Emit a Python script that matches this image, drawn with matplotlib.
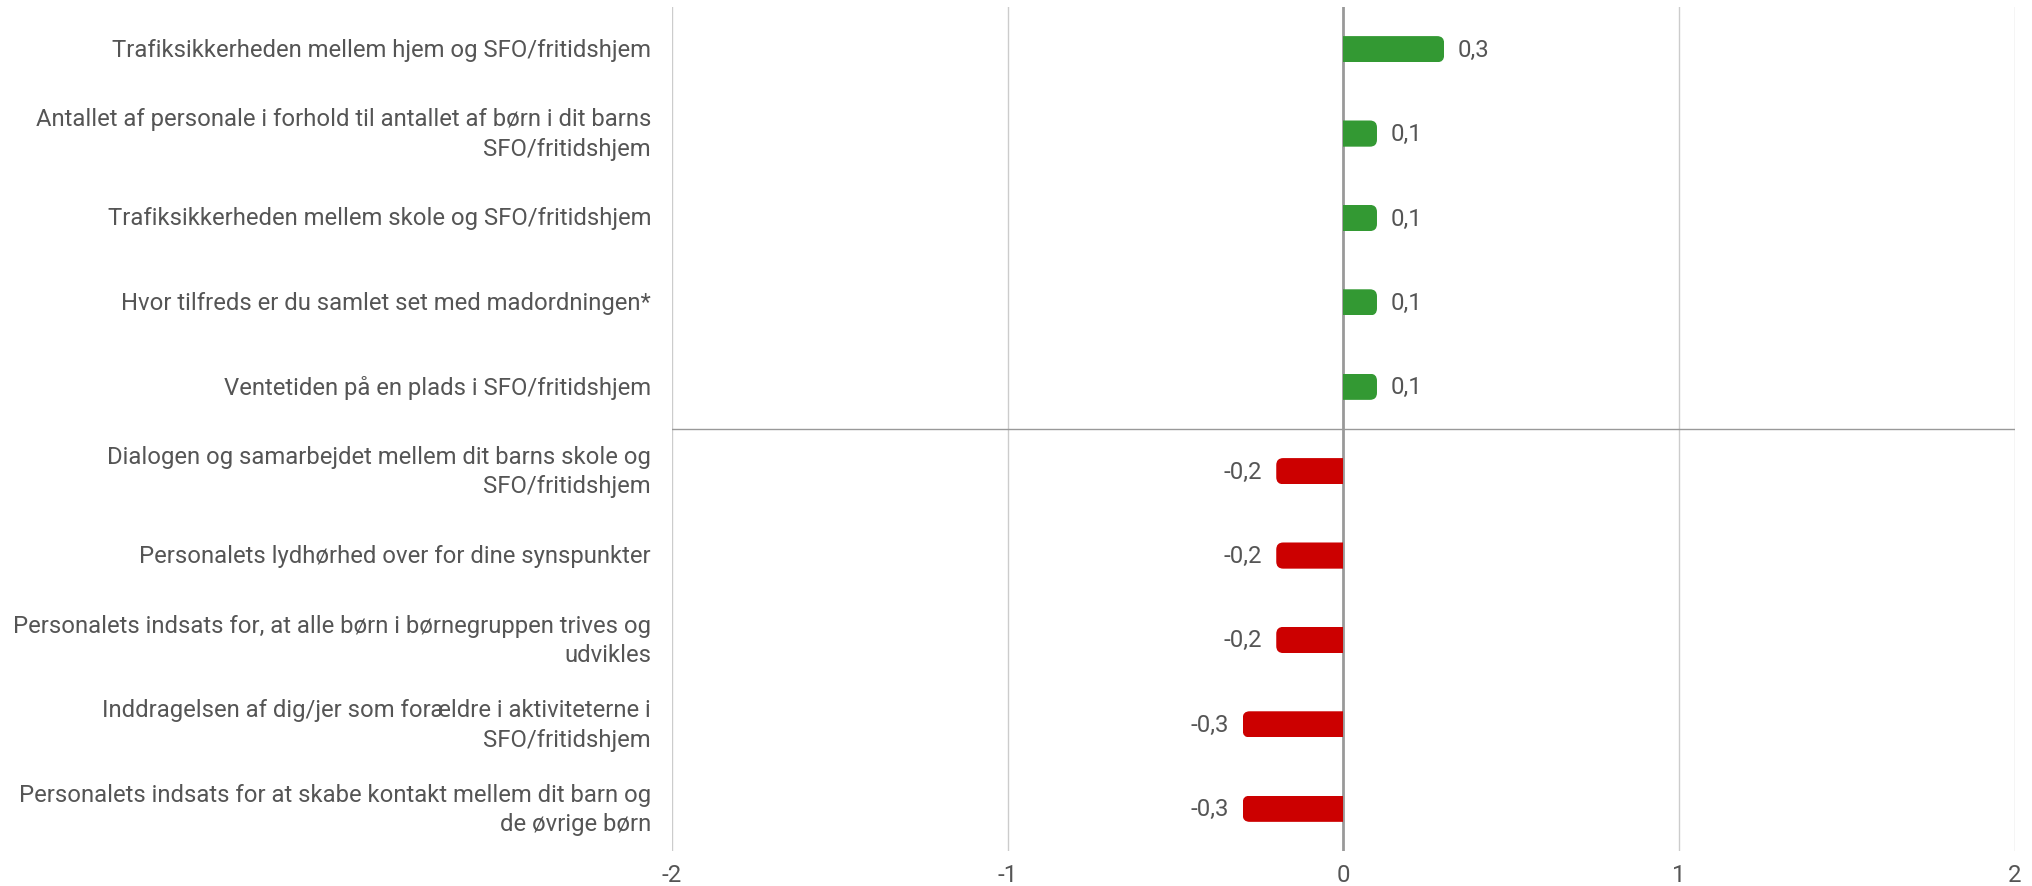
import matplotlib.pyplot as plt
from matplotlib.patches import FancyBboxPatch
import numpy as np

plt.rcParams['font.family'] = ['Roboto', 'DejaVu Sans']

labels = [
    "Trafiksikkerheden mellem hjem og SFO/fritidshjem",
    "Antallet af personale i forhold til antallet af børn i dit barns\nSFO/fritidshjem",
    "Trafiksikkerheden mellem skole og SFO/fritidshjem",
    "Hvor tilfreds er du samlet set med madordningen*",
    "Ventetiden på en plads i SFO/fritidshjem",
    "Dialogen og samarbejdet mellem dit barns skole og\nSFO/fritidshjem",
    "Personalets lydhørhed over for dine synspunkter",
    "Personalets indsats for, at alle børn i børnegruppen trives og\nudvikles",
    "Inddragelsen af dig/jer som forældre i aktiviteterne i\nSFO/fritidshjem",
    "Personalets indsats for at skabe kontakt mellem dit barn og\nde øvrige børn",
]
values = [0.3, 0.1, 0.1, 0.1, 0.1, -0.2, -0.2, -0.2, -0.3, -0.3]
xticks = [-2, -1, 0, 1, 2]

green = '#339933'
red = '#cc0000'
txt = '#555555'
fs = 17.2

fig = plt.figure(figsize=(20.33, 8.87), dpi=100)
ax = fig.add_axes([0.3305, 0.0395, 0.6606, 0.9515])

y = np.arange(len(values))
h = 0.31
ax.set_xlim(-2, 2)
ax.set_ylim(len(values) - 0.5, -0.5)

# pixel scale for the rounded bar ends
x_px = ax.get_position().width * fig.get_figwidth() * fig.dpi / 4
y_px = ax.get_position().height * fig.get_figheight() * fig.dpi / len(values)
r_px = 7
bars = ax.barh(y, values, height=h, color=[green if v > 0 else red for v in values],
               zorder=3)
for b, yi, v in zip(bars, y, values):
    # clip each bar with a rounded box that reaches past zero -> only outer end rounded
    x0 = v if v < 0 else -0.2
    clip = FancyBboxPatch((x0, yi - h / 2), abs(v) + 0.2, h,
                          boxstyle="round,pad=0,rounding_size=%f" % (r_px / x_px),
                          mutation_aspect=x_px / y_px, transform=ax.transData,
                          fc='none', ec='none')
    b.set_clip_path(clip)
    lab = f"{v:.1f}".replace('.', ',')
    ax.annotate(lab, (v, yi), xytext=(10 if v > 0 else -10, 0),
                textcoords='offset points', va='center',
                ha='left' if v > 0 else 'right', fontsize=fs, color=txt)

for t in xticks:
    ax.axvline(t, color='#999999' if t == 0 else '#cccccc',
               lw=2 if t == 0 else 1, zorder=1)
ax.axhline(4.5, color='#999999', lw=1, zorder=1)

ax.set_yticks(y)
ax.set_yticklabels(labels, fontsize=fs, color=txt, linespacing=1.36)
for t in ax.get_yticklabels():
    t.set_va('center')
ax.set_xticks(xticks)
ax.set_xticklabels([str(t) for t in xticks], fontsize=fs, color=txt)
ax.tick_params(length=0)
ax.tick_params(axis='y', pad=15)
ax.tick_params(axis='x', pad=9)
for s in ax.spines.values():
    s.set_visible(False)

fig.savefig("out.png", dpi=100)
